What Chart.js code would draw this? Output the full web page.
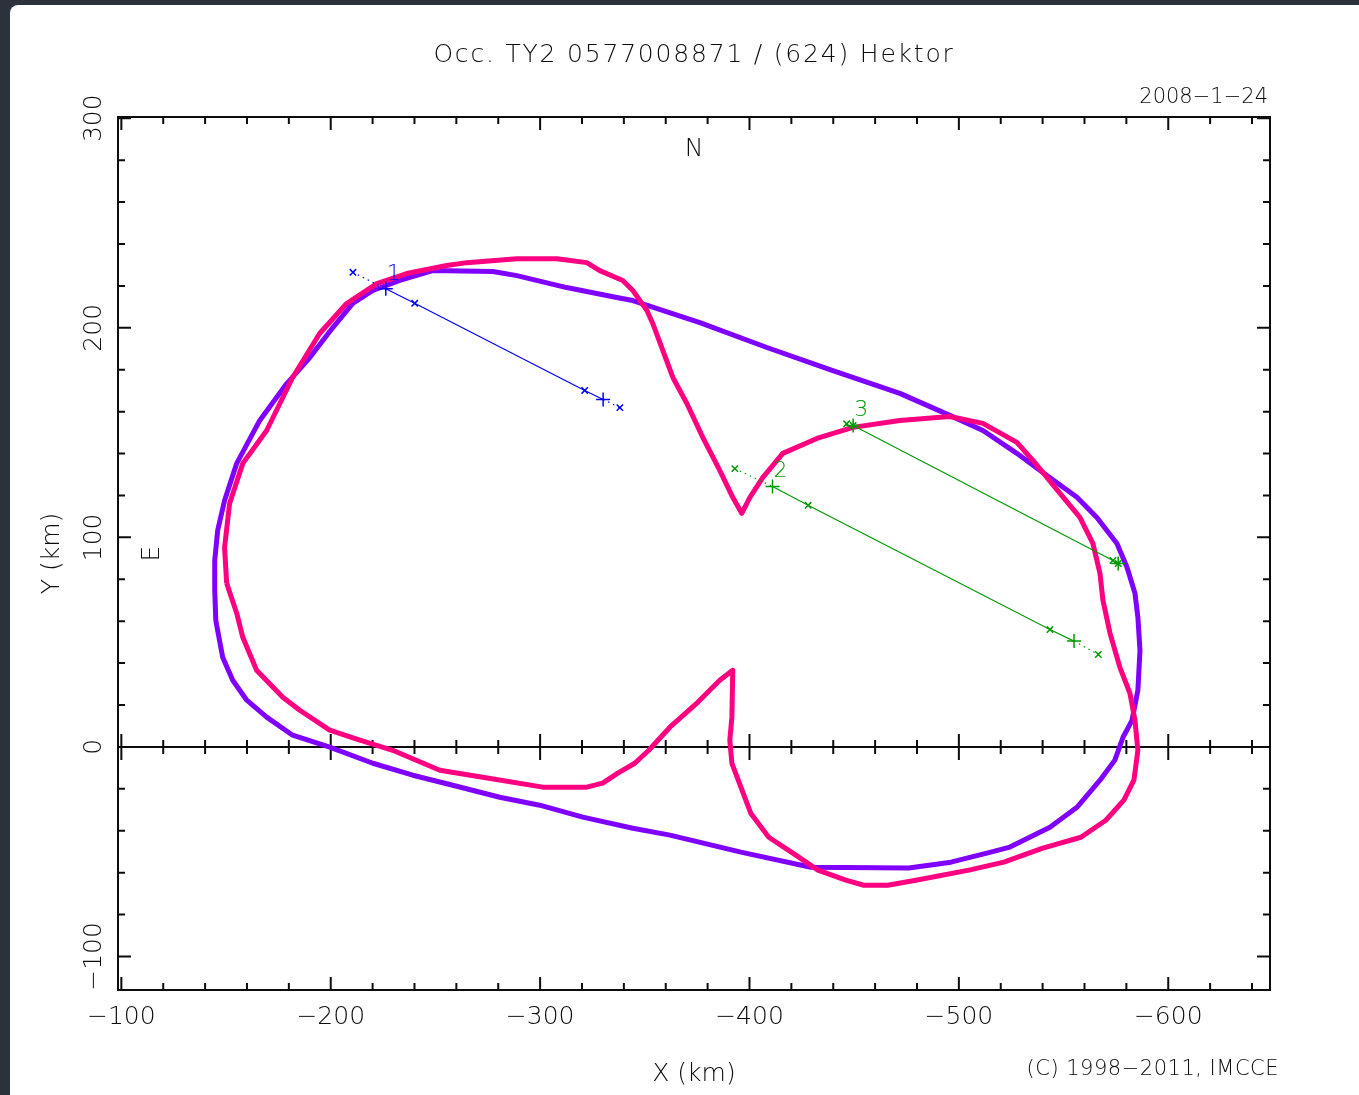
<!DOCTYPE html>
<html>
<head>
<meta charset="utf-8">
<title>Occ. TY2 0577008871 / (624) Hektor</title>
<script src="https://cdn.jsdelivr.net/npm/chart.js@4.4.1/dist/chart.umd.min.js"></script>
<style>
  html, body { margin: 0; padding: 0; background: #2b323c; overflow: hidden; }
  #sheet { position: absolute; left: 10px; top: 5px; right: 0; bottom: 0; background: #fff; border-top-left-radius: 8px; }
  #wrap { position: absolute; left: 0; top: 0; width: 1359px; height: 1095px; }
</style>
</head>
<body>
<div id="sheet"></div>
<div id="wrap"><canvas id="chart" width="1359" height="1095"></canvas></div>
<script>
// profile 1 (violet), km in the sky plane
const purpleX = [-145.1, -144.6, -144.6, -146.0, -149.3, -155.1, -166.1, -179.0, -190.0, -201.0,
  -210.5, -220.1, -233.0, -248.7, -277.4, -288.9, -312.7, -336.6, -344.3, -376.3,
  -408.3, -439.8, -471.8, -495.7, -511.5, -527.7, -540.1, -556.4, -565.9, -575.5,
  -580.3, -584.1, -585.5, -586.5, -585.5, -582.7, -578.4, -574.5, -567.4, -556.4,
  -543.5, -524.4, -513.4, -496.2, -476.1, -429.3, -395.9, -362.0, -344.3, -320.4,
  -299.8, -280.7, -258.3, -239.2, -220.1, -199.5, -181.8, -169.4, -159.9, -153.2, -148.4];
const purpleY = [60.4, 74.7, 89.0, 103.3, 117.6, 135.3, 155.8, 173.4, 185.8, 200.1,
  211.6, 217.8, 222.6, 227.3, 226.9, 224.9, 219.2, 214.5, 213.0, 202.5,
  190.6, 179.6, 168.7, 158.2, 151.0, 140.1, 131.0, 119.1, 109.5, 97.1,
  85.7, 73.3, 61.9, 46.1, 27.0, 12.7, 4.6, -6.3, -15.9, -28.8,
  -38.3, -47.8, -50.7, -55.0, -57.8, -57.4, -50.2, -42.1, -38.8, -33.5,
  -27.8, -24.0, -18.3, -13.5, -7.8, -0.1, 5.6, 14.2, 22.3, 31.8, 42.8];

// profile 2 (pink)
const pinkX = [-150.3, -149.3, -151.7, -158.0, -169.4, -181.8, -194.7, -207.6, -222.0, -236.3,
  -255.4, -265.0, -288.9, -308.0, -322.3, -328.5, -339.5, -344.3, -351.0, -353.8,
  -358.6, -363.4, -370.1, -377.7, -385.8, -392.0, -396.3, -400.2, -406.4, -415.9,
  -432.2, -449.4, -471.8, -495.7, -511.5, -527.7, -535.4, -548.3, -557.8, -564.0,
  -567.4, -568.8, -572.2, -576.9, -581.7, -584.1, -585.5, -583.6, -578.8, -570.2,
  -558.3, -540.1, -521.5, -504.8, -479.5, -466.0, -454.6, -446.0, -432.7, -420.7,
  -409.2, -400.6, -395.9, -391.6, -390.6, -391.6, -392.0, -385.8, -375.3, -362.0,
  -351.9, -345.2, -337.1, -329.9, -322.3, -301.3, -272.6, -252.1, -229.6, -213.9,
  -199.5, -185.2, -177.1, -164.6, -158.0, -155.1];
const pinkY = [78.1, 95.2, 116.2, 135.3, 151.0, 176.3, 197.3, 211.6, 221.1, 225.9,
  229.7, 231.1, 233.0, 233.0, 231.1, 227.3, 222.6, 217.8, 208.3, 202.1,
  189.2, 176.3, 163.9, 147.7, 132.0, 119.1, 111.5, 119.1, 128.6, 140.1,
  147.2, 152.5, 155.8, 157.7, 154.4, 145.3, 136.7, 121.0, 109.5, 97.1,
  82.8, 70.0, 54.2, 38.0, 25.6, 12.7, -1.6, -15.9, -25.4, -35.0,
  -43.1, -48.3, -55.0, -58.8, -63.6, -66.0, -66.0, -63.6, -58.8, -50.7,
  -43.1, -31.6, -19.2, -7.8, 3.2, 14.2, 36.6, 31.8, 21.3, 9.4,
  -1.6, -7.8, -12.5, -17.3, -19.2, -19.2, -14.5, -11.1, -1.6, 3.2,
  8.0, 17.5, 23.7, 36.6, 52.3, 63.8];

// chords: [err start, disappearance, err, err, reappearance, err end]
const chord1X = [-210.6, -226.3, -240.1, -321.3, -330.1, -338.1];
const chord1Y = [226.5, 218.6, 211.7, 170.1, 165.8, 161.9];
const chord2X = [-393.0, -411.0, -428.0, -543.5, -555.0, -566.6];
const chord2Y = [132.8, 124.3, 115.3, 56.0, 50.5, 44.1];
const chord3X = [-446.4, -449.5, -449.5, -573.6, -576.1, -576.1];
const chord3Y = [154.2, 153.4, 153.4, 89.0, 87.5, 87.5];
const chordNames = ['1', '2', '3'];

const xTickLabels = [-100, -200, -300, -400, -500, -600];
const yTickLabels = [-100, 0, 100, 200, 300];

const FONT = '"DejaVu Sans", sans-serif';
const INK = '#0c0c0c';

function pts(xs, ys) {
    return xs.map((x, i) => ({x: x, y: ys[i]}));
}
function closed(xs, ys) {
    let p = pts(xs, ys);
    p.push(p[0]);
    return p;
}
function minus(v) {
    return v < 0 ? '\u2212' + Math.abs(v) : String(v);
}

const markStyles = ['crossRot', 'cross', 'crossRot', 'crossRot', 'cross', 'crossRot'];
const markSizes = [4.5, 7, 4.5, 4.5, 7, 4.5];

function chordSet(xs, ys, color) {
    return {
        data: pts(xs, ys),
        showLine: true,
        borderColor: color,
        borderWidth: 1.2,
        pointStyle: markStyles,
        pointRadius: markSizes,
        pointBorderColor: color,
        pointBorderWidth: 1.5,
        tension: 0,
        segment: {
            //the outer pieces (error margins) are dotted
            borderDash: c => (c.p0DataIndex === 0 || c.p0DataIndex === 4) ? [1.5, 4] : undefined
        }
    };
}

function contourSet(xs, ys, color) {
    return {
        data: closed(xs, ys),
        showLine: true,
        borderColor: color,
        borderWidth: 5,
        borderJoinStyle: 'round',
        pointRadius: 0,
        tension: 0
    };
}

//frame, inward ticks, zero line and the annotations
const framePlugin = {
    id: 'framePlugin',
    beforeDatasetsDraw(chart) {
        const {ctx, chartArea: a, scales: {x, y}} = chart;
        const y0 = y.getPixelForValue(0);
        ctx.save();
        ctx.strokeStyle = INK;
        ctx.lineWidth = 2;
        ctx.strokeRect(a.left, a.top, a.right - a.left, a.bottom - a.top);
        ctx.beginPath();
        ctx.moveTo(a.left, y0);
        ctx.lineTo(a.right, y0);
        x.ticks.forEach(t => {
            const px = x.getPixelForValue(t.value);
            const len = (t.value % 100 === 0) ? 13 : 7;
            ctx.moveTo(px, a.top); ctx.lineTo(px, a.top + len);
            ctx.moveTo(px, a.bottom); ctx.lineTo(px, a.bottom - len);
            ctx.moveTo(px, y0 - len); ctx.lineTo(px, y0 + len);
        });
        y.ticks.forEach(t => {
            const py = y.getPixelForValue(t.value);
            const len = (t.value % 100 === 0) ? 13 : 7;
            ctx.moveTo(a.left, py); ctx.lineTo(a.left + len, py);
            ctx.moveTo(a.right, py); ctx.lineTo(a.right - len, py);
        });
        ctx.stroke();
        ctx.restore();
    },
    afterDraw(chart) {
        const {ctx, chartArea: a, scales: {x, y}} = chart;
        const cx = (a.left + a.right) / 2;
        const cy = (a.top + a.bottom) / 2;
        ctx.save();
        ctx.fillStyle = INK;
        ctx.textBaseline = 'middle';

        ctx.font = '200 25px ' + FONT;
        ctx.textAlign = 'center';
        ctx.letterSpacing = '1.8px';
        ctx.fillText('Occ. TY2 0577008871 / (624) Hektor', cx, 55);
        ctx.letterSpacing = '0px';
        ctx.fillText('N', cx, a.top + 32);

        ctx.font = '200 21px ' + FONT;
        ctx.textAlign = 'right';
        ctx.fillText('2008\u22121\u221224', a.right - 2, 98);
        ctx.letterSpacing = '0.5px';
        ctx.fillText('(C) 1998\u22122011, IMCCE', a.right + 9, 1070);
        ctx.letterSpacing = '0px';

        ctx.save();
        ctx.font = '200 25px ' + FONT;
        ctx.textAlign = 'center';
        ctx.translate(a.left + 34, cy);
        ctx.rotate(-Math.PI / 2);
        ctx.fillText('E', 0, 0);
        ctx.restore();

        //chord numbers next to the disappearance mark
        ctx.font = '200 22px ' + FONT;
        ctx.textAlign = 'left';
        chart.data.datasets.forEach((ds, i) => {
            if (i >= chordNames.length) return;
            const p = ds.data[1];
            ctx.fillStyle = ds.borderColor;
            ctx.fillText(chordNames[i], x.getPixelForValue(p.x) + 1, y.getPixelForValue(p.y) - 15);
        });
        ctx.restore();
    }
};

const tickFont = {family: FONT, size: 25, weight: 200};

new Chart(document.getElementById('chart'), {
    type: 'scatter',
    data: {
        datasets: [
            chordSet(chord1X, chord1Y, '#0000ff'),
            chordSet(chord2X, chord2Y, '#009a00'),
            chordSet(chord3X, chord3Y, '#009a00'),
            contourSet(pinkX, pinkY, '#ff0080'),
            contourSet(purpleX, purpleY, '#8000ff')
        ]
    },
    options: {
        responsive: false,
        animation: false,
        events: [],
        devicePixelRatio: 1,
        layout: {padding: {left: 0, top: 117, right: 89, bottom: 0}},
        plugins: {
            legend: {display: false},
            tooltip: {enabled: false}
        },
        scales: {
            x: {
                type: 'linear',
                position: 'bottom',
                reverse: true,
                min: -648.6,
                max: -98.4,
                grid: {display: false},
                border: {display: false},
                ticks: {
                    stepSize: 20,
                    autoSkip: false,
                    includeBounds: false,
                    maxRotation: 0,
                    padding: 4,
                    color: INK,
                    font: tickFont,
                    callback: v => xTickLabels.includes(v) ? minus(v) : ''
                },
                title: {
                    display: true,
                    text: 'X (km)',
                    color: INK,
                    font: tickFont,
                    padding: {top: 0, bottom: 6}
                },
                afterFit: s => { s.height = 105; }
            },
            y: {
                type: 'linear',
                position: 'left',
                min: -116,
                max: 300.6,
                grid: {display: false},
                border: {display: false},
                ticks: {
                    stepSize: 20,
                    autoSkip: false,
                    includeBounds: false,
                    minRotation: 90,
                    maxRotation: 90,
                    crossAlign: 'center',
                    padding: -19,
                    color: INK,
                    font: tickFont,
                    callback: v => yTickLabels.includes(v) ? minus(v) : ''
                },
                title: {
                    display: true,
                    text: 'Y (km)',
                    color: INK,
                    font: tickFont,
                    padding: {top: 37, bottom: 0}
                },
                afterFit: s => { s.width = 118; }
            }
        }
    },
    plugins: [framePlugin]
});
</script>
</body>
</html>
